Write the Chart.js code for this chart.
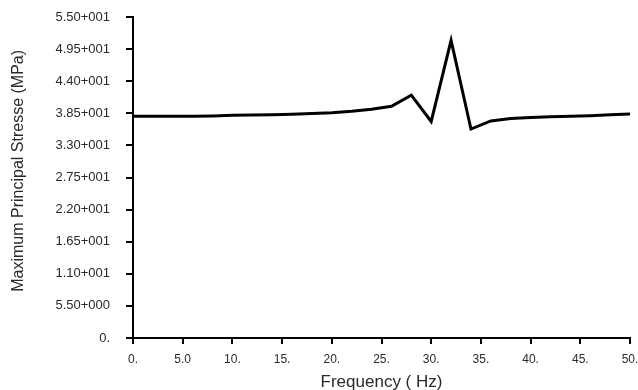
<!DOCTYPE html>
<html>
<head>
<meta charset="utf-8">
<script src="https://cdn.jsdelivr.net/npm/chart.js@4"></script>
<style>
html,body{margin:0;padding:0;background:#fff;}
#wrap{width:638px;height:390px;position:relative;}
</style>
</head>
<body>
<div id="wrap"><canvas id="c" width="638" height="390"></canvas></div>
<script>
const frequency = [0,2,4,6,8,10,12,14,16,18,20,22,24,26,28,30,32,34,36,38,40,42,44,46,48,50];
const stress = [38.0,38.0,38.0,38.0,38.05,38.15,38.2,38.25,38.35,38.45,38.6,38.85,39.2,39.7,41.6,37.1,51.0,35.8,37.2,37.6,37.8,37.9,38.0,38.1,38.25,38.4];
const xTickValues = [0,5,10,15,20,25,30,35,40,45,50];
const xTickLabels = ["0.","5.0","10.","15.","20.","25.","30.","35.","40.","45.","50."];
const yTickValues = [0,5.5,11,16.5,22,27.5,33,38.5,44,49.5,55];
const yTickLabels = ["0.","5.50+000","1.10+001","1.65+001","2.20+001","2.75+001","3.30+001","3.85+001","4.40+001","4.95+001","5.50+001"];
const xTitle = "Frequency ( Hz)";
const yTitle = "Maximum Principal Stresse (MPa)";

const textColor = '#2a2a2a';
const fontFam = '"Liberation Sans", Arial, sans-serif';

new Chart(document.getElementById('c'), {
  type: 'line',
  data: {
    datasets: [{
      data: frequency.map((f, i) => ({x: f, y: stress[i]})),
      borderColor: '#000',
      borderWidth: 3,
      pointRadius: 0,
      tension: 0,
      fill: false
    }]
  },
  options: {
    responsive: false,
    animation: false,
    events: [],
    layout: {padding: {left: 0, top: 17, right: 8, bottom: 0}},
    plugins: {legend: {display: false}, tooltip: {enabled: false}},
    scales: {
      x: {
        type: 'linear',
        min: 0, max: 50,
        afterBuildTicks: s => { s.ticks = xTickValues.map(v => ({value: v})); },
        afterFit: s => { s.height = 52; s.paddingLeft = 0; s.paddingRight = 0; },
        border: {display: true, color: '#000', width: 2},
        grid: {drawOnChartArea: false, drawTicks: true, tickLength: 6, color: '#000', lineWidth: 2},
        ticks: {
          autoSkip: false, maxRotation: 0,
          padding: 8,
          color: textColor,
          font: {family: fontFam, size: 12},
          callback: (v) => { const i = xTickValues.indexOf(v); return i >= 0 ? xTickLabels[i] : ''; }
        },
        title: {display: true, text: xTitle, color: textColor, font: {family: fontFam, size: 17, lineHeight: 0.85}, padding: {top: 0, bottom: 0}}
      },
      y: {
        type: 'linear',
        min: 0, max: 55,
        afterBuildTicks: s => { s.ticks = yTickValues.map(v => ({value: v})); },
        afterFit: s => { s.width = 133; s.paddingTop = 0; s.paddingBottom = 0; },
        border: {display: true, color: '#000', width: 2},
        grid: {drawOnChartArea: false, drawTicks: true, tickLength: 7, color: '#000', lineWidth: 2},
        ticks: {
          autoSkip: false,
          padding: 16,
          color: textColor,
          font: {family: fontFam, size: 13},
          callback: (v) => { const i = yTickValues.indexOf(v); return i >= 0 ? yTickLabels[i] : ''; }
        },
        title: {display: true, text: '   ' + yTitle, color: textColor, font: {family: fontFam, size: 16}, padding: {top: 9, bottom: 0}}
      }
    }
  }
});
</script>
</body>
</html>
